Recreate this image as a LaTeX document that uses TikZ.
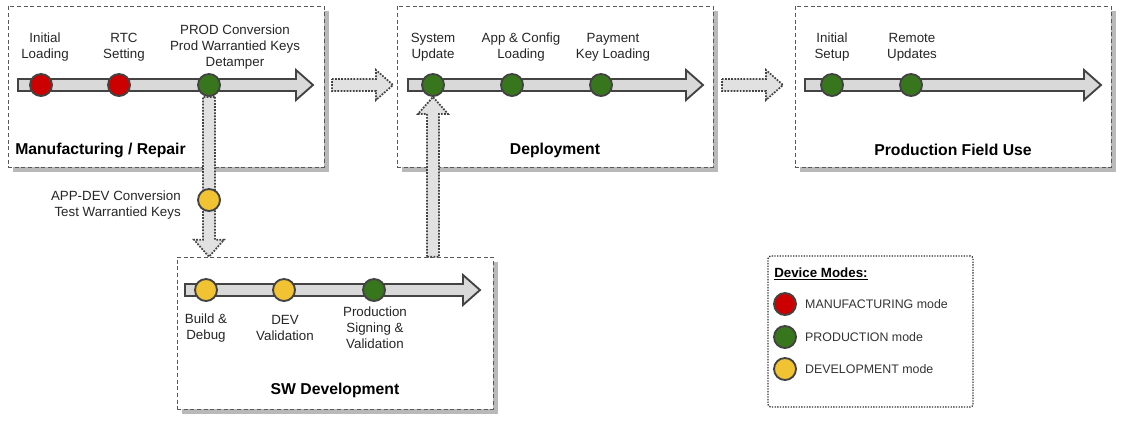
\documentclass[tikz,border=0pt]{standalone}
\usepackage{fontspec}
\setmainfont{Liberation Sans}
\usepackage{xcolor}
\usetikzlibrary{shapes,arrows,positioning,calc,shadows}
\definecolor{mfgred}{RGB}{204,0,0}
\definecolor{prodgreen}{RGB}{56,118,29}
\definecolor{devyellow}{RGB}{241,194,50}
\definecolor{outlinegray}{RGB}{67,67,67}
\definecolor{arrowfill}{RGB}{217,217,217}
\definecolor{shadowgray}{RGB}{185,185,185}

% fat block arrow between two named points
\newcommand{\fatarrow}[3][]{%
 \coordinate (fa-base) at ($(#3)!12.75pt!(#2)$);
 \draw[#1] ($(#2)!4.5pt!90:(#3)$) -- ($(fa-base)!4.5pt!90:(#3)$)
 -- ($(fa-base)!11.25pt!90:(#3)$) -- (#3)
 -- ($(fa-base)!11.25pt!-90:(#3)$) -- ($(fa-base)!4.5pt!-90:(#3)$)
 -- ($(#2)!4.5pt!-90:(#3)$) -- cycle;}

\begin{document}
\begin{tikzpicture}[
 x=0.75pt, y=-0.75pt,
 stage/.style={rectangle, draw=black!65, dash pattern=on 3pt off 2pt, fill=white, minimum width=237pt, minimum height=120.75pt,
  drop shadow={shadow xshift=3.5pt, shadow yshift=-3.5pt, fill=shadowgray, opacity=1}},
 mode/.style={circle, draw=outlinegray, line width=1.4pt, minimum size=16.5pt, inner sep=0pt},
 mfgmode/.style={mode, fill=mfgred},
 prodmode/.style={mode, fill=prodgreen},
 devmode/.style={mode, fill=devyellow},
 timeline/.style={draw=outlinegray, line width=1.4pt, fill=arrowfill, line join=miter},
 flow/.style={draw=outlinegray, densely dotted, line width=1.3pt, fill=arrowfill!80},
 step label/.style={align=center, inner sep=0pt, font=\fontsize{10}{12}\selectfont, text=black!85},
 title/.style={inner sep=0pt, font=\fontsize{11.8}{14}\selectfont\bfseries},
 legend text/.style={inner sep=0pt, font=\fontsize{9.3}{11}\selectfont, text=black!80}
]
\useasboundingbox (0,0) rectangle (1121,422);

% Stage boxes
\node[stage] (mfg) at (166,86.5) {};
\node[stage] (deploy) at (555,86.5) {};
\node[stage] (field) at (953,86.5) {};
\node[stage, minimum height=114pt] (swdev) at (335,333) {};

% Timelines
\coordinate (mfg-start) at (18,85);
\coordinate (mfg-end) at (313,85);
\coordinate (dep-start) at (408,85);
\coordinate (dep-end) at (703,85);
\coordinate (fld-start) at (805,85);
\coordinate (fld-end) at (1101,85);
\coordinate (sw-start) at (185,290);
\coordinate (sw-end) at (480,290);
\fatarrow[timeline]{mfg-start}{mfg-end}
\fatarrow[timeline]{dep-start}{dep-end}
\fatarrow[timeline]{fld-start}{fld-end}
\fatarrow[timeline]{sw-start}{sw-end}

% Manufacturing / Repair
\node[mfgmode] (mfg1) at (41,85) {};
\node[mfgmode] (mfg2) at (119,85) {};
\node[prodmode] (mfg3) at (209,85) {};
\node[step label] (mfg1-lbl) at (45,47) {Initial\\Loading};
\node[step label] (mfg2-lbl) at (124,47) {RTC\\Setting};
\node[step label] (mfg3-lbl) at (235,47) {PROD Conversion\\Prod Warrantied Keys\\Detamper};
\node[title, anchor=west] (mfg-title) at (15,150) {Manufacturing / Repair};

% Deployment
\node[prodmode] (dep1) at (433,85) {};
\node[prodmode] (dep2) at (512,85) {};
\node[prodmode] (dep3) at (601,85) {};
\node[step label] (dep1-lbl) at (433,47) {System\\Update};
\node[step label] (dep2-lbl) at (521,47) {App \& Config\\Loading};
\node[step label] (dep3-lbl) at (613,47) {Payment\\Key Loading};
\node[title] (dep-title) at (555,150) {Deployment};

% Production Field Use
\node[prodmode] (fld1) at (832,85) {};
\node[prodmode] (fld2) at (911,85) {};
\node[step label] (fld1-lbl) at (832,47) {Initial\\Setup};
\node[step label] (fld2-lbl) at (912,47) {Remote\\Updates};
\node[title] (fld-title) at (953,150) {Production Field Use};

% SW Development
\node[devmode] (sw1) at (206,290) {};
\node[devmode] (sw2) at (284,290) {};
\node[prodmode] (sw3) at (374,290) {};
\node[step label] (sw1-lbl) at (206,328) {Build \&\\Debug};
\node[step label] (sw2-lbl) at (285,328) {DEV\\Validation};
\node[step label] (sw3-lbl) at (375,328) {Production\\Signing \&\\Validation};
\node[title] (sw-title) at (335,390) {SW Development};

% Flow between stages
\coordinate (mfg-out) at (332,85);
\coordinate (dep-in) at (393,85);
\coordinate (dep-out) at (722,85);
\coordinate (fld-in) at (783,85);
\coordinate (sw-in) at (mfg3 |- swdev.north);
\coordinate (sw-out) at (dep1 |- swdev.north);
\fatarrow[flow]{mfg-out}{dep-in}
\fatarrow[flow]{dep-out}{fld-in}
\fatarrow[flow]{mfg3.south}{sw-in}
\fatarrow[flow]{sw-out}{dep1.south}

% APP-DEV conversion
\node[devmode] (appdev) at (209,200) {};
\node[step label, align=right, anchor=east] (appdev-lbl) at (181,205) {APP-DEV Conversion\\Test Warrantied Keys};

% Legend
\node[rectangle, draw=black!80, densely dotted, line width=1pt, rounded corners=2pt,
 minimum width=153.75pt, minimum height=113.25pt] (legend) at (870.5,331.5) {};
\node[legend text, anchor=west, text=black, font=\fontsize{10}{12}\selectfont\bfseries] (legend-title) at (774,274) {\underline{Device Modes:}};
\node[mfgmode] (leg1) at (785,304) {};
\node[prodmode] (leg2) at (785,337) {};
\node[devmode] (leg3) at (785,369) {};
\node[legend text, right=6pt of leg1] (leg1-txt) {MANUFACTURING mode};
\node[legend text, right=6pt of leg2] (leg2-txt) {PRODUCTION mode};
\node[legend text, right=6pt of leg3] (leg3-txt) {DEVELOPMENT mode};

\end{tikzpicture}
\end{document}
